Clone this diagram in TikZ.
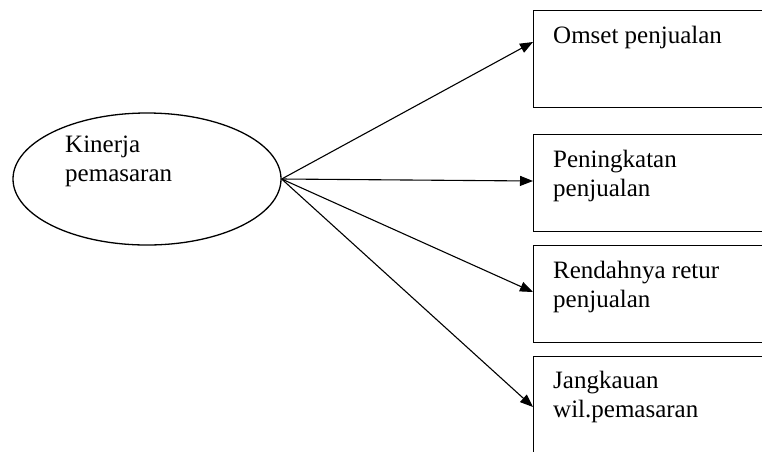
\documentclass[tikz,border=0pt]{standalone}
\usepackage{fontspec}
\setmainfont{Liberation Serif}
\usetikzlibrary{arrows.meta,shapes.geometric}

\begin{document}
\begin{tikzpicture}[x=1pt,y=-1pt,
    panah/.style={-{Triangle[length=13pt,width=10pt]}, line width=1.1pt},
    kotak/.style={
        draw,
        line width=1.3pt,
        minimum width=240pt,   % right side runs past the page
        minimum height=97pt,
        anchor=north west,
        inner sep=0pt
    },
    teks/.style={anchor=north west, align=left, inner sep=0pt,
        font=\fontsize{25}{29}\selectfont}
]
\useasboundingbox (0,0) rectangle (762,451);
\clip (0,0) rectangle (762,451);

% variabel laten
\node[ellipse, draw, line width=1.3pt, minimum width=268pt, minimum height=132pt, inner sep=0pt] (pemasaran) at (147,179) {};
\node[teks] (pemasaranteks) at (65,136) {Kinerja\\pemasaran};

% indikator
\node[kotak] (omset) at (533,10) {};
\node[kotak] (peningkatan) at (533,134) {};
\node[kotak] (retur) at (533,245) {};
\node[kotak] (jangkauan) at (533,356) {};

\node[teks] (omsetteks) at ([xshift=20pt,yshift=-16pt]omset.north west) {Omset penjualan};
\node[teks] (peningkatanteks) at ([xshift=20pt,yshift=-16pt]peningkatan.north west) {Peningkatan\\penjualan};
\node[teks] (returteks) at ([xshift=20pt,yshift=-16pt]retur.north west) {Rendahnya retur\\penjualan};
\node[teks] (jangkauanteks) at ([xshift=20pt,yshift=-15pt]jangkauan.north west) {Jangkauan\\wil.pemasaran};

\draw[panah] (pemasaran.east) -- ([yshift=-32pt]omset.north west);
\draw[panah] (pemasaran.east) -- ([yshift=-47pt]peningkatan.north west);
\draw[panah] (pemasaran.east) -- ([yshift=-47pt]retur.north west);
\draw[panah] (pemasaran.east) -- ([yshift=-51pt]jangkauan.north west);
\end{tikzpicture}
\end{document}
